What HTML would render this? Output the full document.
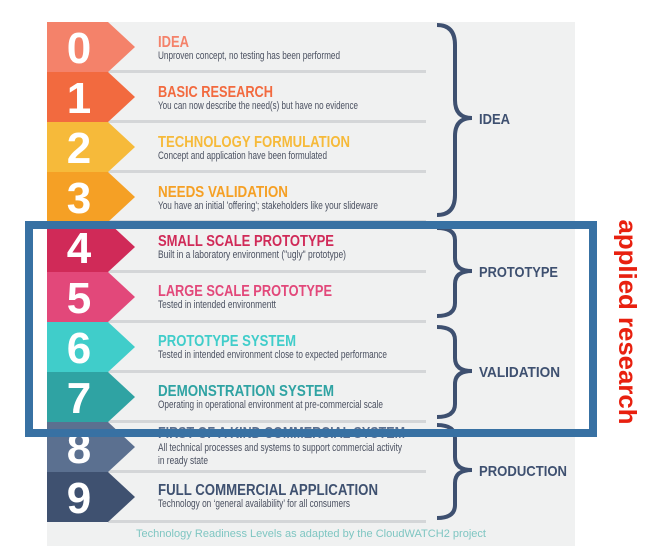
<!DOCTYPE html>
<html><head><meta charset="utf-8"><style>
body{margin:0;background:#fff;width:655px;height:546px;overflow:hidden}
svg{display:block}
.t{font-family:"Liberation Sans",sans-serif;font-weight:bold;font-size:16px}
.d{font-family:"Liberation Sans",sans-serif;font-size:11px;fill:#4a5060}
.n{font-family:"Liberation Sans",sans-serif;font-weight:bold;font-size:44px;fill:#fff}
.g{font-family:"Liberation Sans",sans-serif;font-weight:bold;font-size:15px;fill:#3e5070}
</style></head><body>
<svg width="655" height="546" viewBox="0 0 655 546">
<rect x="47" y="22" width="528" height="524" fill="#f0f1f1"/>
<g fill="#d4d6d8">
<rect x="108" y="70" width="318" height="3"/><rect x="108" y="120" width="318" height="3"/>
<rect x="108" y="170" width="318" height="3"/><rect x="108" y="220" width="318" height="3"/>
<rect x="108" y="270" width="318" height="3"/><rect x="108" y="320" width="318" height="3"/>
<rect x="108" y="370" width="318" height="3"/><rect x="108" y="420" width="318" height="3"/>
<rect x="108" y="470" width="318" height="3"/><rect x="108" y="520" width="318" height="3"/>
</g>
<path d="M47 22H108L135 47L108 72H47Z" fill="#f4826a"/>
<path d="M47 72H108L135 97L108 122H47Z" fill="#f26a3f"/>
<path d="M47 122H108L135 147L108 172H47Z" fill="#f6ba3a"/>
<path d="M47 172H108L135 197L108 222H47Z" fill="#f5a025"/>
<path d="M47 222H108L135 247L108 272H47Z" fill="#d02a58"/>
<path d="M47 272H108L135 297L108 322H47Z" fill="#e2487a"/>
<path d="M47 322H108L135 347L108 372H47Z" fill="#40cdca"/>
<path d="M47 372H108L135 397L108 422H47Z" fill="#2fa3a3"/>
<path d="M47 422H108L135 447L108 472H47Z" fill="#5b7090"/>
<path d="M47 472H108L135 497L108 522H47Z" fill="#3f5170"/>
<g class="n" text-anchor="middle">
<text x="79" y="63">0</text><text x="79" y="113">1</text><text x="79" y="163">2</text>
<text x="79" y="213">3</text><text x="79" y="263">4</text><text x="79" y="313">5</text>
<text x="79" y="363">6</text><text x="79" y="413">7</text><text x="79" y="463">8</text>
<text x="79" y="513">9</text>
</g>
<g lengthAdjust="spacingAndGlyphs">
<text class="t" x="158" y="47" fill="#f4826a" textLength="31" lengthAdjust="spacingAndGlyphs">IDEA</text>
<text class="d" x="158" y="59" textLength="182" lengthAdjust="spacingAndGlyphs">Unproven concept, no testing has been performed</text>
<text class="t" x="158" y="97" fill="#f26a3f" textLength="115" lengthAdjust="spacingAndGlyphs">BASIC RESEARCH</text>
<text class="d" x="158" y="109" textLength="200" lengthAdjust="spacingAndGlyphs">You can now describe the need(s) but have no evidence</text>
<text class="t" x="158" y="147" fill="#f6ba3a" textLength="192" lengthAdjust="spacingAndGlyphs">TECHNOLOGY FORMULATION</text>
<text class="d" x="158" y="159" textLength="169" lengthAdjust="spacingAndGlyphs">Concept and application have been formulated</text>
<text class="t" x="158" y="197" fill="#f5a025" textLength="130" lengthAdjust="spacingAndGlyphs">NEEDS VALIDATION</text>
<text class="d" x="158" y="209" textLength="220" lengthAdjust="spacingAndGlyphs">You have an initial 'offering'; stakeholders like your slideware</text>
<text class="t" x="158" y="246" fill="#d02a58" textLength="176" lengthAdjust="spacingAndGlyphs">SMALL SCALE PROTOTYPE</text>
<text class="d" x="158" y="258" textLength="188" lengthAdjust="spacingAndGlyphs">Built in a laboratory environment ("ugly" prototype)</text>
<text class="t" x="158" y="296" fill="#e2487a" textLength="174" lengthAdjust="spacingAndGlyphs">LARGE SCALE PROTOTYPE</text>
<text class="d" x="158" y="308" textLength="118" lengthAdjust="spacingAndGlyphs">Tested in intended environmentt</text>
<text class="t" x="158" y="346" fill="#40cdca" textLength="138" lengthAdjust="spacingAndGlyphs">PROTOTYPE SYSTEM</text>
<text class="d" x="158" y="358" textLength="229" lengthAdjust="spacingAndGlyphs">Tested in intended environment close to expected performance</text>
<text class="t" x="158" y="396" fill="#2fa3a3" textLength="176" lengthAdjust="spacingAndGlyphs">DEMONSTRATION SYSTEM</text>
<text class="d" x="158" y="408" textLength="225" lengthAdjust="spacingAndGlyphs">Operating in operational environment at pre-commercial scale</text>
<text class="t" x="158" y="438" fill="#5b7090" textLength="247" lengthAdjust="spacingAndGlyphs">FIRST OF A KIND COMMERCIAL SYSTEM</text>
<text class="d" x="158" y="451" textLength="244" lengthAdjust="spacingAndGlyphs">All technical processes and systems to support commercial activity</text>
<text class="d" x="158" y="464" textLength="50" lengthAdjust="spacingAndGlyphs">in ready state</text>
<text class="t" x="158" y="495" fill="#3f5170" textLength="220" lengthAdjust="spacingAndGlyphs">FULL COMMERCIAL APPLICATION</text>
<text class="d" x="158" y="507" textLength="192" lengthAdjust="spacingAndGlyphs">Technology on ‘general availability’ for all consumers</text>
</g>
<text x="311" y="537" text-anchor="middle" font-family="Liberation Sans,sans-serif" font-size="11" fill="#7fc6c2" textLength="350" lengthAdjust="spacingAndGlyphs">Technology Readiness Levels as adapted by the CloudWATCH2 project</text>
<g fill="none" stroke="#3e5070" stroke-width="4">
<path d="M437 25Q455 25 455 45V100Q455 118 472 118Q455 118 455 136V195Q455 215 437 215"/>
<path d="M437 228Q455 228 455 240V258Q455 271 472 271Q455 271 455 284V303Q455 316 437 316"/>
<path d="M437 327Q455 327 455 340V358Q455 371 472 371Q455 371 455 384V404Q455 417 437 417"/>
<path d="M437 425Q455 425 455 438V457Q455 470 472 470Q455 470 455 483V505Q455 518 437 518"/>
</g>
<text class="g" x="479" y="124" textLength="31" lengthAdjust="spacingAndGlyphs">IDEA</text>
<text class="g" x="479" y="277" textLength="79" lengthAdjust="spacingAndGlyphs">PROTOTYPE</text>
<text class="g" x="479" y="377" textLength="81" lengthAdjust="spacingAndGlyphs">VALIDATION</text>
<text class="g" x="479" y="476" textLength="88" lengthAdjust="spacingAndGlyphs">PRODUCTION</text>
<rect x="29" y="225" width="564" height="208" fill="none" stroke="#3871a3" stroke-width="8"/>
<text transform="translate(619,322) rotate(90)" text-anchor="middle" font-family="Liberation Sans,sans-serif" font-weight="bold" font-size="25" fill="#e8200f" textLength="205" lengthAdjust="spacingAndGlyphs">applied research</text>
</svg>
</body></html>
